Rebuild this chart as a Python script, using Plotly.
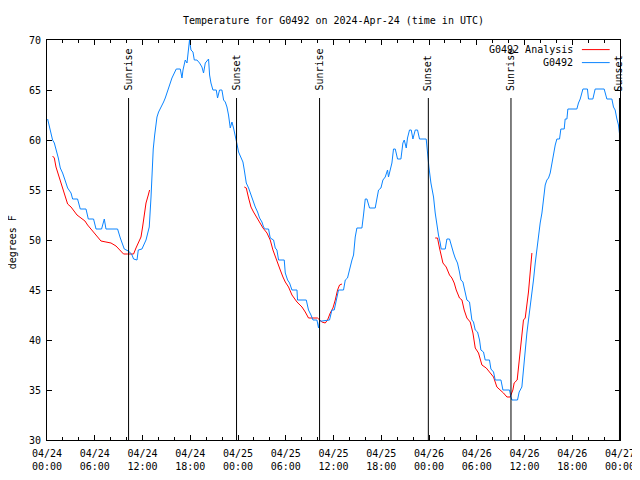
import plotly.graph_objects as go
from datetime import datetime, timedelta

# ---------------- data ----------------
start_time = "2024-04-24 00:00"   # hours below are counted from this UTC time
end_time = "2024-04-27 00:00"

obs_hours = [
    0.08, 0.41, 0.70, 0.92, 1.26, 1.42, 1.67, 1.96, 2.26, 2.59,
    3.02, 3.22, 3.84, 4.18, 4.90, 5.19, 5.85, 6.16, 6.86, 7.20,
    7.41, 8.87, 9.21, 9.71, 10.21, 10.63, 10.88, 11.31, 11.47, 11.93,
    12.44, 12.85, 13.07, 13.23, 13.35, 13.53, 13.66, 13.82, 14.02, 14.23,
    14.65, 14.86, 15.08, 15.28, 15.49, 15.70, 15.90, 16.24, 16.75, 16.96,
    17.09, 17.37, 17.59, 17.79, 17.91, 18.09, 18.34, 18.51, 18.84, 19.17,
    19.47, 19.67, 19.89, 20.30, 20.43, 20.60, 20.85, 21.27, 21.43, 21.68,
    21.98, 22.19, 22.40, 22.61, 22.81, 23.03, 23.24, 23.44, 23.66, 23.87,
    24.07, 24.37, 24.62, 24.79, 25.04, 25.33, 25.63, 25.88, 26.17, 26.46,
    26.71, 27.01, 27.21, 27.42, 27.84, 28.05, 28.47, 28.68, 28.89, 29.10,
    29.81, 29.94, 30.23, 30.48, 30.78, 31.41, 31.48, 32.58, 32.86, 33.17,
    33.42, 33.92, 34.12, 34.25, 34.55, 35.50, 35.80, 36.09, 36.34, 36.63,
    37.26, 37.48, 37.76, 38.02, 38.32, 38.52, 38.73, 38.94, 39.57, 39.77,
    39.99, 40.20, 40.53, 41.24, 41.46, 41.66, 41.96, 42.21, 42.50, 42.79,
    42.91, 43.13, 43.34, 43.54, 43.76, 44.05, 44.47, 44.72, 44.89, 45.14,
    45.30, 45.55, 45.77, 45.98, 46.27, 46.56, 46.81, 47.65, 47.81, 47.99,
    48.24, 48.57, 48.78, 48.99, 49.19, 49.41, 49.53, 50.04, 50.25, 50.58,
    50.88, 51.08, 51.29, 51.58, 51.83, 52.01, 52.26, 52.55, 52.76, 53.09,
    53.39, 53.59, 53.81, 54.10, 54.35, 54.52, 54.85, 55.06, 55.60, 55.78,
    56.11, 56.32, 57.04, 57.29, 58.12, 58.29, 58.42, 59.12, 59.33, 59.67,
    59.87, 60.09, 60.30, 60.50, 60.72, 60.93, 61.13, 61.35, 61.56, 61.76,
    61.97, 62.19, 62.39, 62.60, 62.81, 63.02, 63.23, 63.44, 63.64, 63.86,
    64.07, 64.40, 64.57, 64.99, 65.11, 65.33, 65.45, 66.58, 66.78, 67.00,
    67.34, 67.91, 68.04, 68.59, 68.88, 70.01, 70.35, 70.98, 71.18, 71.39,
    71.61, 71.81, 71.93, 72.00,
]
obs_temp = [
    62.1, 61.0, 60.0, 59.7, 58.7, 58.2, 57.2, 56.7, 56.0, 55.2,
    54.7, 54.1, 54.1, 53.1, 53.1, 52.1, 52.1, 51.1, 51.1, 52.1,
    51.1, 51.1, 50.2, 49.1, 48.9, 48.6, 48.1, 48.0, 49.0, 49.1,
    50.0, 51.3, 54.3, 57.0, 59.1, 60.5, 61.5, 62.3, 62.8, 63.1,
    63.8, 64.2, 64.8, 65.3, 65.7, 66.2, 66.5, 67.1, 67.1, 66.2,
    67.0, 68.0, 67.7, 69.0, 70.0, 69.0, 68.8, 68.0, 68.0, 67.7,
    67.3, 66.7, 67.7, 68.1, 66.5, 65.7, 65.0, 65.0, 64.2, 65.0,
    65.0, 64.0, 63.8, 63.3, 62.5, 61.2, 61.8, 61.2, 60.5, 59.6,
    58.8, 58.2, 57.8, 57.0, 55.7, 55.2, 54.5, 54.0, 53.3, 52.8,
    52.2, 51.8, 51.3, 51.1, 51.1, 50.2, 50.0, 49.2, 49.0, 48.0,
    48.0, 46.7, 46.0, 45.7, 45.0, 45.0, 44.0, 44.0, 43.0, 42.5,
    42.0, 42.0, 41.2, 41.9, 41.9, 42.0, 43.0, 43.0, 44.0, 45.0,
    45.0, 46.0, 46.2, 47.2, 48.0, 48.5, 50.3, 51.2, 51.2, 52.5,
    54.1, 54.1, 53.2, 53.2, 54.0, 55.0, 55.2, 56.0, 56.3, 57.0,
    56.3, 57.0, 57.7, 59.1, 59.1, 58.1, 58.1, 59.7, 60.0, 59.2,
    60.2, 61.0, 61.0, 60.1, 61.0, 61.0, 60.1, 60.1, 58.5, 57.3,
    55.7, 54.3, 52.7, 51.3, 50.5, 49.7, 49.1, 49.1, 50.1, 50.1,
    49.1, 48.7, 48.2, 47.7, 46.8, 46.0, 45.8, 44.7, 44.0, 43.8,
    42.0, 41.8, 41.0, 40.8, 40.0, 39.0, 38.8, 38.0, 38.0, 37.1,
    36.8, 36.0, 36.0, 35.0, 35.0, 34.3, 34.0, 34.0, 34.8, 35.3,
    37.3, 39.3, 40.7, 42.0, 43.3, 44.7, 46.0, 47.7, 49.3, 50.7,
    51.7, 52.7, 54.3, 55.5, 56.0, 56.2, 56.7, 57.7, 58.8, 59.5,
    60.1, 60.1, 61.1, 61.1, 62.1, 62.1, 63.1, 63.1, 63.7, 64.1,
    65.1, 65.1, 64.1, 64.1, 65.1, 65.1, 64.1, 64.1, 63.3, 63.0,
    62.1, 61.5, 60.7, 60.2,
]

# analysis series (None separates the three runs)
ana_hours = [
    0.70, 0.92, 1.13, 1.42, 1.67, 1.96, 2.26, 2.59, 3.02, 3.43,
    3.77, 4.27, 4.77, 5.10, 5.53, 5.94, 6.36, 6.78, 7.41, 8.04,
    8.67, 9.21, 9.62, 10.13, 10.88, 11.18, 11.47, 11.81, 12.01, 12.22,
    12.44, 12.73, 12.89,
    None,
    24.79, 25.04, 25.33, 25.63, 25.95, 26.29, 26.71, 27.14, 27.64, 28.05,
    28.39, 28.68, 28.97, 29.31, 29.65, 29.94, 30.35, 30.78, 31.41, 32.04,
    32.45, 32.86, 33.99, 34.55, 34.96, 35.25, 35.59, 35.93, 36.22, 36.51,
    36.76, 37.06,
    None,
    48.78, 49.07, 49.32, 49.50, 49.75, 50.16, 50.58, 50.88, 51.17, 51.42,
    51.83, 52.14, 52.42, 52.76, 53.18, 53.52, 53.81, 54.22, 54.65, 55.19,
    55.69, 56.11, 56.53, 56.95, 57.36, 57.79, 58.20, 58.54, 58.70, 59.08,
    59.25, 59.46, 59.67, 59.87, 60.09, 60.30, 60.50, 60.72, 60.93,
]
ana_temp = [
    58.4, 58.2, 57.3, 56.6, 55.8, 55.3, 54.5, 53.6, 53.3, 52.8,
    52.5, 52.2, 51.9, 51.5, 51.1, 50.7, 50.3, 49.9, 49.8, 49.7,
    49.4, 49.0, 48.6, 48.6, 48.6, 49.2, 49.7, 50.3, 51.3, 52.5,
    53.7, 54.5, 55.0,
    None,
    55.3, 55.2, 54.2, 53.3, 52.8, 52.3, 51.7, 51.2, 50.7, 50.0,
    49.0, 48.3, 47.8, 47.0, 46.3, 45.8, 45.3, 44.5, 43.8, 43.3,
    42.8, 42.2, 42.2, 41.8, 41.7, 42.0, 42.7, 43.2, 44.0, 45.0,
    45.5, 45.6,
    None,
    50.2, 50.2, 49.2, 48.5, 47.7, 47.3, 46.5, 46.2, 45.7, 45.0,
    44.2, 44.0, 43.0, 42.2, 41.8, 40.7, 39.2, 38.7, 37.5, 37.2,
    36.7, 36.3, 35.3, 35.0, 34.7, 34.3, 34.3, 35.0, 35.7, 36.0,
    37.3, 39.3, 40.7, 42.0, 42.2, 43.3, 44.8, 46.8, 48.7,
]

sunrise_times = ["2024-04-24 10:15", "2024-04-25 10:15", "2024-04-26 10:18"]
sunset_times = ["2024-04-24 23:49", "2024-04-25 23:55", "2024-04-26 23:56"]

title_text = "Temperature for G0492 on 2024-Apr-24 (time in UTC)"
ytitle_text = "degrees F"
name_ana = "G0492 Analysis"
name_obs = "G0492"
y_ticks = [30, 35, 40, 45, 50, 55, 60, 65, 70]

# ---------------- build ----------------
t0 = datetime.strptime(start_time, "%Y-%m-%d %H:%M")
t1 = datetime.strptime(end_time, "%Y-%m-%d %H:%M")


def to_time(hours):
    return [t0 + timedelta(hours=h) if h is not None else None for h in hours]


FONT = "DejaVu Sans Mono"
RED = "#ff0000"
BLUE = "#0a84ff"

fig = go.Figure()
fig.add_trace(go.Scatter(x=to_time(ana_hours), y=ana_temp, mode="lines",
                         name=name_ana, line=dict(color=RED, width=1),
                         connectgaps=False))
fig.add_trace(go.Scatter(x=to_time(obs_hours), y=obs_temp, mode="lines",
                         name=name_obs, line=dict(color=BLUE, width=1)))

shapes = []
annotations = []
line_top = 0.855
for label, times in (("Sunrise", sunrise_times), ("Sunset", sunset_times)):
    for t in times:
        shapes.append(dict(type="line", xref="x", yref="paper", x0=t, x1=t,
                           y0=0, y1=line_top, line=dict(color="black", width=1)))
        annotations.append(dict(text=label, x=t, xref="x", y=0.8675, yref="paper",
                                textangle=-90, xanchor="center", yanchor="bottom",
                                showarrow=False, font=dict(family=FONT, size=10, color="black")))

# legend (text then sample line, gnuplot style)
for i, (name, col) in enumerate(((name_ana, RED), (name_obs, BLUE))):
    yy = 0.976 - i * 0.0325
    annotations.append(dict(text=name, x=0.9215, xref="paper", y=yy, yref="paper",
                            xanchor="right", yanchor="middle", showarrow=False,
                            font=dict(family=FONT, size=10, color="black")))
    shapes.append(dict(type="line", xref="paper", yref="paper", x0=0.9335, x1=0.982,
                       y0=yy, y1=yy, line=dict(color=col, width=1)))

annotations.append(dict(text=ytitle_text, x=-0.0605, xref="paper", y=0.495, yref="paper",
                        textangle=-90, xanchor="center", yanchor="middle", showarrow=False,
                        font=dict(family=FONT, size=10, color="black")))

# the page body adds an 8px offset; margins compensate so the plot box
# lands on the reference pixels (left 47, top 40, right 620, bottom 440)
fig.update_layout(
    width=640, height=480,
    margin=dict(l=39, r=28, t=32, b=48),
    paper_bgcolor="white", plot_bgcolor="white",
    font=dict(family=FONT, size=10, color="black"),
    showlegend=False,
    title=dict(text=title_text, x=0.5, xref="paper", xanchor="center",
               y=1 - 12 / 480, yref="container", yanchor="middle",
               font=dict(family=FONT, size=10, color="black")),
    shapes=shapes, annotations=annotations,
)
fig.update_xaxes(
    type="date", range=[t0, t1],
    tickmode="linear", tick0=t0, dtick=6 * 3600 * 1000,
    tickformat="%m/%d<br>%H:%M",
    ticks="inside", ticklen=5, tickcolor="black", ticklabelstandoff=4,
    showline=True, linecolor="black", linewidth=1, mirror="ticks",
    showgrid=False, zeroline=False,
    minor=dict(dtick=2 * 3600 * 1000, ticks="inside", ticklen=3,
               tickcolor="black", showgrid=False),
    tickfont=dict(family=FONT, size=10, color="black"),
)
fig.update_yaxes(
    range=[30, 70], tickmode="array", tickvals=y_ticks,
    ticks="inside", ticklen=5, tickcolor="black", ticklabelstandoff=3,
    showline=True, linecolor="black", linewidth=1, mirror="ticks",
    showgrid=False, zeroline=False,
    tickfont=dict(family=FONT, size=10, color="black"),
)

fig.write_html("out.html")
